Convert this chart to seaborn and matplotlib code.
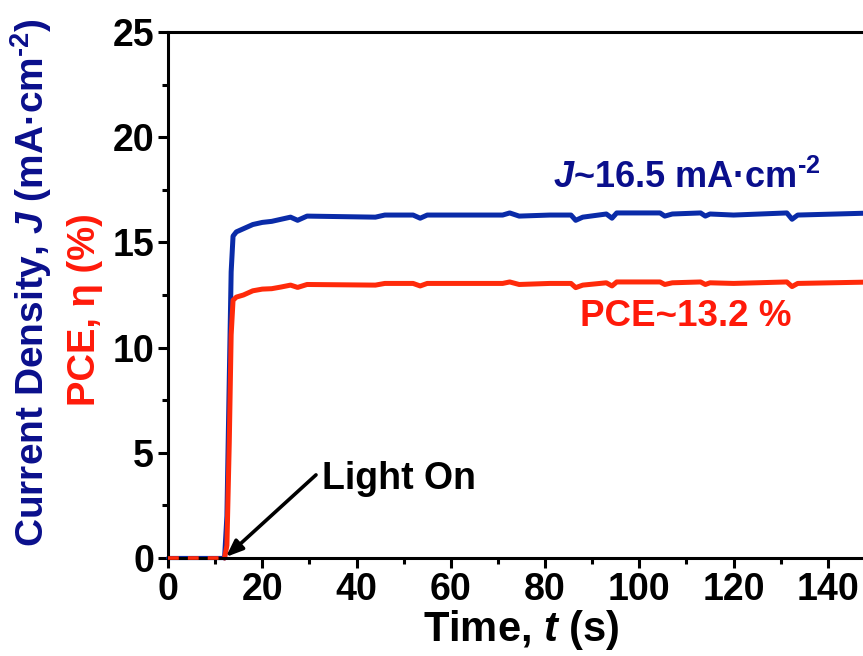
import matplotlib
matplotlib.use("Agg")
import matplotlib.pyplot as plt
import seaborn as sns
import pandas as pd

# Photocurrent transient under illumination (light switched on at ~12 s)
time_s = [0, 2, 4, 6, 8, 10, 12.0, 12.5, 13.0, 13.4, 13.8, 14.5, 16, 18, 20, 22, 24, 26,
          27.5, 29.5, 44, 46, 52, 53.5, 55, 71, 72.5, 74.5, 81, 85.5, 86.5, 88, 93,
          94.2, 95.2, 104.4, 105.4, 107, 113, 114, 115, 120, 131.3, 132.4, 133.6, 150]
current_density = [0, 0, 0, 0, 0, 0, 0, 2.0, 8.5, 13.6, 15.3, 15.5, 15.65, 15.85, 15.95,
                   16.0, 16.1, 16.2, 16.05, 16.25, 16.2, 16.3, 16.3, 16.15, 16.3, 16.3,
                   16.4, 16.25, 16.3, 16.3, 16.05, 16.2, 16.35, 16.15, 16.4, 16.4, 16.25,
                   16.35, 16.4, 16.25, 16.35, 16.3, 16.4, 16.1, 16.3, 16.4]
pce = [0, 0, 0, 0, 0, 0, 0, 0.6, 5.5, 10.6, 12.25, 12.4, 12.5, 12.7, 12.78, 12.8, 12.88,
       12.97, 12.86, 13.0, 12.97, 13.05, 13.05, 12.93, 13.05, 13.05, 13.12, 13.0, 13.05,
       13.05, 12.85, 12.97, 13.08, 12.93, 13.12, 13.12, 13.0, 13.08, 13.12, 13.0, 13.08,
       13.05, 13.12, 12.9, 13.05, 13.12]

light_on_s = 12.2
x_ticks = [0, 20, 40, 60, 80, 100, 120, 140]
y_ticks = [0, 5, 10, 15, 20, 25]

J_COLOR = "#0A2BA8"
PCE_COLOR = "#FF2A0A"
J_TEXT = "#0A0F8C"
PCE_TEXT = "#FF1A0A"

sns.set_style("ticks")
plt.rcParams["font.family"] = ["Liberation Sans", "DejaVu Sans"]
plt.rcParams["font.weight"] = "bold"
plt.rcParams["text.color"] = "black"
plt.rcParams["axes.labelcolor"] = "black"
plt.rcParams["xtick.color"] = "black"
plt.rcParams["ytick.color"] = "black"
plt.rcParams["mathtext.fontset"] = "custom"
plt.rcParams["mathtext.rm"] = "Liberation Sans:bold"
plt.rcParams["mathtext.bf"] = "Liberation Sans:bold"
plt.rcParams["mathtext.it"] = "Liberation Sans:bold:italic"

df = pd.DataFrame({"t": time_s, "J": current_density, "PCE": pce})
dark = df[df["t"] <= light_on_s]
lit = df[df["t"] >= light_on_s - 0.3]

fig = plt.figure(figsize=(8.63, 6.56), dpi=100)
ax = fig.add_axes([168 / 863, 98 / 656, (875 - 168) / 863, 526 / 656])

sns.lineplot(data=dark, x="t", y="J", ax=ax, color=J_COLOR, lw=3, clip_on=False)
sns.lineplot(data=lit, x="t", y="J", ax=ax, color=J_COLOR, lw=3.6, clip_on=False)
sns.lineplot(data=dark, x="t", y="PCE", ax=ax, color=PCE_COLOR, lw=2.6,
             linestyle=(0, (3, 2.5)), clip_on=False, zorder=5)
sns.lineplot(data=lit, x="t", y="PCE", ax=ax, color=PCE_COLOR, lw=3.6, clip_on=False)

ax.set_xlim(0, 150)
ax.set_ylim(0, 25)
ax.set_xticks(x_ticks)
ax.set_xticks([10, 30, 50, 70, 90, 110, 130], minor=True)
ax.set_yticks(y_ticks)
ax.set_yticks([2.5, 7.5, 12.5, 17.5, 22.5], minor=True)
ax.tick_params(axis="both", which="major", direction="out", length=7, width=2.2,
               labelsize=27, pad=3, colors="black")
ax.tick_params(axis="both", which="minor", direction="out", length=4.5, width=2.2,
               colors="black")
for lab in ax.get_xticklabels() + ax.get_yticklabels():
    lab.set_fontweight("bold")
for side in ["left", "bottom", "top"]:
    ax.spines[side].set_linewidth(2.2)
    ax.spines[side].set_color("black")
ax.spines["right"].set_visible(False)

ax.set_xlabel(r"Time, $t$ (s)", fontsize=30, fontweight="bold", labelpad=0,
              color="black")
ax.set_ylabel("")

fig.text(0.036, 1 - 283 / 656, r"Current Density, $J$ (mA·cm$^{‐2}$)",
         rotation=90, ha="center", va="center", fontsize=28, fontweight="bold",
         color=J_TEXT)
fig.text(0.099, 1 - 310 / 656, "PCE, η (%)", rotation=90, ha="center", va="center",
         fontsize=27.5, fontweight="bold", color=PCE_TEXT)

ax.text(81.7, 17.6, r"$J$~16.5 mA·cm$^{‐2}$", fontsize=26, fontweight="bold",
        color=J_TEXT, ha="left", va="baseline")
ax.text(87.4, 11.05, "PCE~13.2 %", fontsize=26.5, fontweight="bold",
        color=PCE_TEXT, ha="left", va="baseline")

ax.annotate("", xy=(12.3, 0.05), xytext=(31.4, 3.95),
            arrowprops=dict(arrowstyle="-|>,head_length=1.0,head_width=0.4",
                            color="black", lw=2.6, shrinkA=0, shrinkB=0))
ax.text(32.7, 3.3, "Light On", fontsize=27, fontweight="bold", color="black",
        ha="left", va="baseline")

fig.savefig("out.png", dpi=100)
